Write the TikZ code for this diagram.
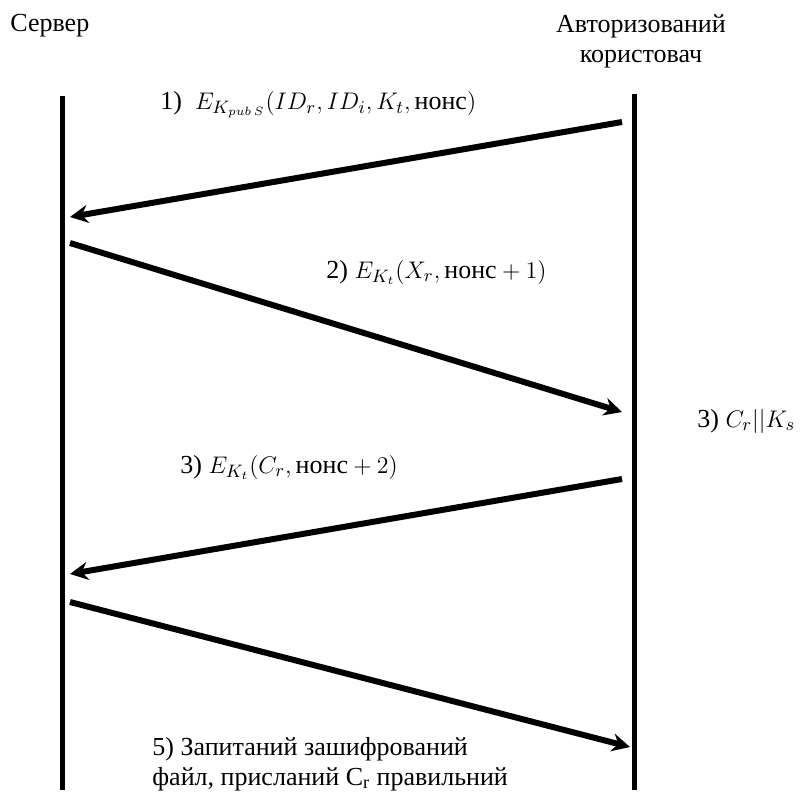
\documentclass[tikz,border=0pt]{standalone}
\usepackage{amsmath}
\usepackage{fontspec}
\setmainfont{Liberation Serif}
\usepackage{tikz}
\usetikzlibrary{arrows.meta}

\tikzset{
    lifeline/.style={line width=2.5pt},
    msg/.style={line width=3pt, -{Stealth[length=9pt, width=9pt, inset=3pt]}},
    lbl/.style={anchor=west, inner sep=0pt, font=\fontsize{13}{15}\selectfont}
}

\begin{document}
\begin{tikzpicture}[x=0.5pt, y=-0.5pt]
    \useasboundingbox (0,0) rectangle (803,794);

    % Учасники
    \node[lbl] (server) at (10,26) {Сервер};
    \node[lbl, anchor=center, align=center] (user) at (641,41) {Авторизований\\користовач};

    % Лінії життя
    \draw[lifeline] (62,96) -- (62,790);
    \draw[lifeline] (634,94) -- (634,790);

    % Точки повідомлень
    \coordinate (m1s) at (622,122);
    \coordinate (m1e) at (70,217);
    \coordinate (m2s) at (70,243);
    \coordinate (m2e) at (622,412);
    \coordinate (m3s) at (622,479);
    \coordinate (m3e) at (70,574);
    \coordinate (m4s) at (70,602);
    \coordinate (m4e) at (630,747);

    % Повідомлення
    \draw[msg] (m1s) -- (m1e);
    \draw[msg] (m2s) -- (m2e);
    \draw[msg] (m3s) -- (m3e);
    \draw[msg] (m4s) -- (m4e);

    % Підписи
    \node[lbl] (l1) at (160,105) {1)\ \ $E_{K_{pub\,S}}(ID_r, ID_i, K_t, \text{нонс})$};
    \node[lbl] (l2) at (326,272) {2) $E_{K_t}(X_r, \text{нонс} + 1)$};
    \node[lbl] (l3) at (180,467) {3) $E_{K_t}(C_r, \text{нонс} + 2)$};
    \node[lbl] (l4) at (697,421) {3) $C_r||K_s$};
    \node[lbl, align=left] (l5) at (152,764) {5) Запитаний зашифрований\\файл, присланий C\textsubscript{r} правильний};
\end{tikzpicture}
\end{document}
